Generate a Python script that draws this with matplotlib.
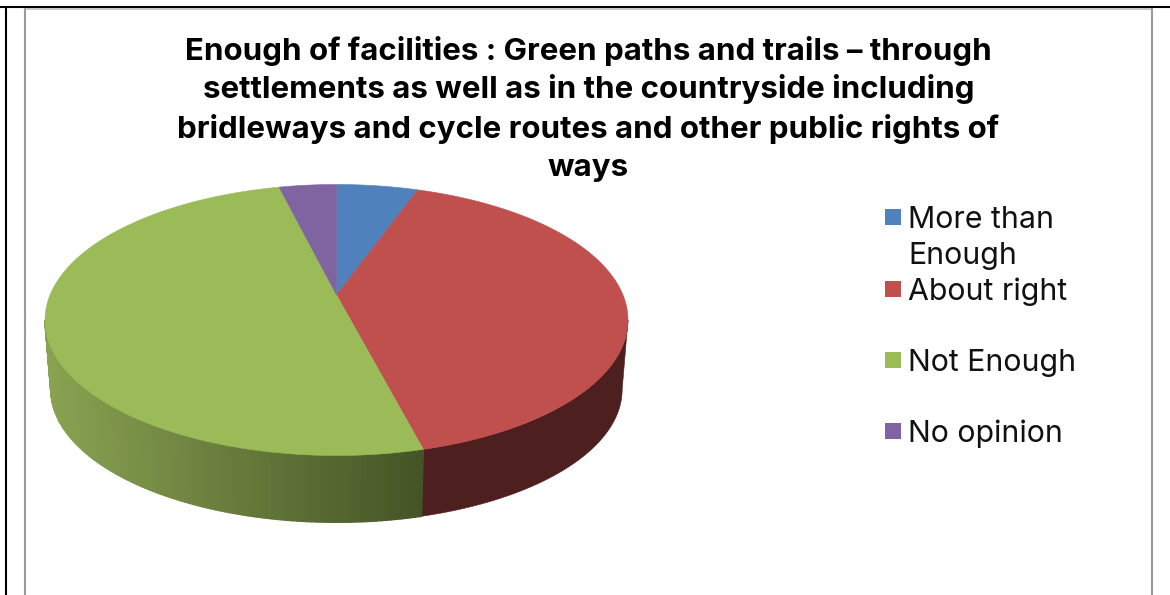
import numpy as np
import matplotlib
matplotlib.use("Agg")
import matplotlib.pyplot as plt
from matplotlib.patches import Rectangle

title_lines = ["Enough of facilities : Green paths and trails – through",
               "settlements as well as in the countryside including",
               "bridleways and cycle routes and other public rights of",
               "ways"]
labels = ["More than\nEnough", "About right", "Not Enough", "No opinion"]
values = [5.4, 40.6, 50.2, 3.8]
colors = ["#4F81BD", "#C0504D", "#9BBB59", "#8064A2"]

W, H = 1170, 595
fig = plt.figure(figsize=(W / 100, H / 100), dpi=100, facecolor="white")
plt.rcParams['font.family'] = ['Inter', 'DejaVu Sans']

# overlay in pixel coordinates for page frame, title and legend
ov = fig.add_axes([0, 0, 1, 1])
ov.set_xlim(0, W); ov.set_ylim(H, 0); ov.axis("off")
ov.plot([0, W], [6.5, 6.5], color="black", lw=1.5, solid_capstyle="butt")
ov.plot([5.5, 5.5], [6, H], color="black", lw=1.5, solid_capstyle="butt")
ov.plot([24.5, 24.5], [8, H], color="#9a9a9a", lw=1.5, solid_capstyle="butt")
ov.plot([1151.5, 1151.5], [8, H], color="#9a9a9a", lw=1.5, solid_capstyle="butt")
ov.plot([25, 1151], [8.5, 8.5], color="#bdbdbd", lw=1.2, solid_capstyle="butt")

for i, line in enumerate(title_lines):
    ov.text(588.5, 50.5 + i * 39, line, ha="center", va="center",
            fontsize=22.5, fontweight="bold", color="black")

legend_y = [217, 289, 360, 431]
for y, lab, c in zip(legend_y, labels, colors):
    ov.add_patch(Rectangle((885, y - 8), 16, 16, facecolor=c, edgecolor="none"))
    for j, part in enumerate(lab.split("\n")):
        ov.text(908, y + 3 + j * 36, part, ha="left", va="center", fontsize=21.8, color="#111111")

# pie: axes box is the top ellipse's bounding box
L, R, T, B = 45, 628, 184.5, 455.5
pie = fig.add_axes([L / W, 1 - B / H, (R - L) / W, (B - T) / H])
pie.patch.set_alpha(0)
wedges, _ = pie.pie(values, colors=colors, startangle=90, counterclock=False, radius=1)
pie.set_aspect("auto")
pie.set_xlim(-1, 1); pie.set_ylim(-1, 1)
pie.axis("off")

# perspective: the projected pie centre sits above the ellipse centre
d = 0.185


def project(u, v):
    den = 1 + d * v
    return np.sqrt(1 - d * d) * u / den, (v + d) / den


# top face: the library's wedge angles, projected
angle_edges = []
for w, c in zip(wedges, colors):
    th = np.radians(np.linspace(w.theta1, w.theta2, 120))
    angle_edges.append((w.theta1, w.theta2))
    x, y = project(np.r_[0, np.cos(th)], np.r_[0, np.sin(th)])
    w.remove()
    pie.fill(x, y, color=c, lw=0.4, zorder=3, clip_on=False)

# side wall
shrink, depth = 0.98, 0.513
red_green_math = min(angle_edges[1])
bx, by = project(np.cos(np.radians(red_green_math)), np.sin(np.radians(red_green_math)))
bound_red_green = np.degrees(np.arctan2(by, bx))
green_l = np.array([0.54, 0.64, 0.32])
green_r = np.array([0.27, 0.33, 0.15])
red_side = np.array([0.30, 0.12, 0.12])


def wall(a0, a1):
    t0, t1 = np.radians(a0), np.radians(a1)
    ts = np.linspace(t0, t1, max(2, int(abs(a1 - a0)) + 1))
    xs = np.r_[np.cos(ts), shrink * np.cos(ts[::-1])]
    ys = np.r_[np.sin(ts), shrink * np.sin(ts[::-1]) - depth]
    return xs, ys


xs, ys = wall(bound_red_green, 0)
pie.fill(xs, ys, color=red_side, lw=0.4, zorder=1, clip_on=False)
thetas = np.arange(-180, bound_red_green, 1.0)
for a0 in thetas:
    a1 = min(a0 + 1.0, bound_red_green)
    mid = 0.5 * (a0 + a1)
    u = np.clip((np.cos(np.radians(mid)) + 1) / (1 + np.cos(np.radians(bound_red_green))), 0, 1)
    c = green_l + (green_r - green_l) * u
    xs, ys = wall(a0, a1)
    pie.fill(xs, ys, color=c, lw=1.0, zorder=1.5, clip_on=False)

fig.savefig("out.png", dpi=100)
